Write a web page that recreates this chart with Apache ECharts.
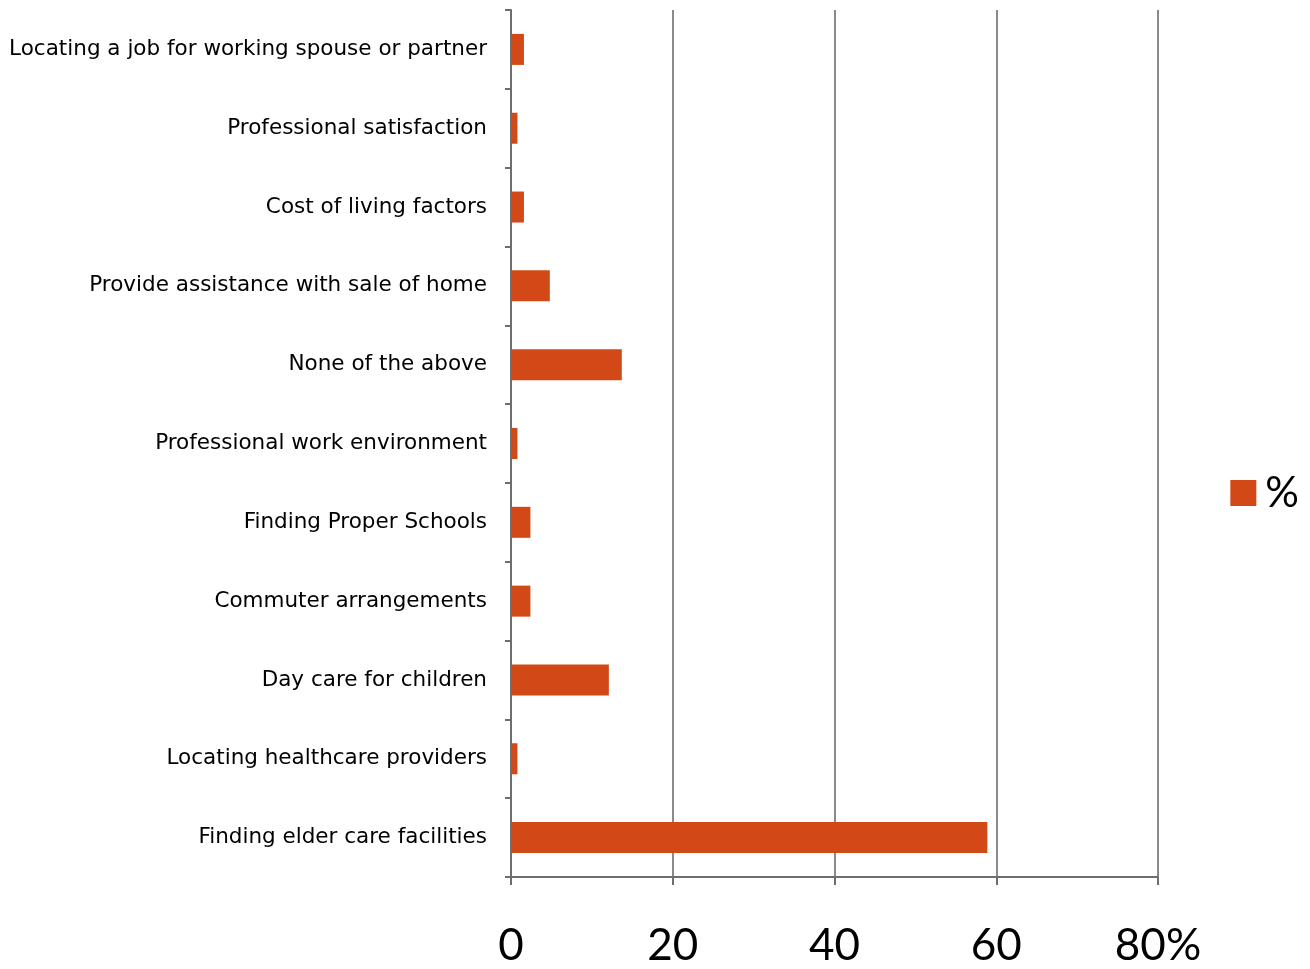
<!DOCTYPE html>
<html><head><meta charset="utf-8">
<script src="https://cdn.jsdelivr.net/npm/echarts@6/dist/echarts.min.js"></script>
<style>html,body{margin:0;padding:0;background:#fff}#c{width:1310px;height:969px}</style>
</head><body><div id="c"></div>
<script>
const categories = [
  "Locating a job for working spouse or partner",
  "Professional satisfaction",
  "Cost of living factors",
  "Provide assistance with sale of home",
  "None of the above",
  "Professional work environment",
  "Finding Proper Schools",
  "Commuter arrangements",
  "Day care for children",
  "Locating healthcare providers",
  "Finding elder care facilities"
];
const values = [1.6, 0.8, 1.6, 4.8, 13.7, 0.8, 2.4, 2.4, 12.1, 0.8, 58.9];
const xTicks = {0:"0", 20:"20", 40:"40", 60:"60", 80:"80%"};
const seriesName = "%";

const chart = echarts.init(document.getElementById('c'));
chart.setOption({
  animation: false,
  grid: {left: 511, right: 152, top: 10, bottom: 92, containLabel: false},
  legend: {
    right: 6, top: 467, orient: 'vertical',
    icon: 'rect',
    itemWidth: 26, itemHeight: 26, itemGap: 10,
    textStyle: {fontFamily: 'Lato', fontSize: 42, color: '#000', padding: [0,0,0,4]},
    data: [seriesName]
  },
  xAxis: {
    type: 'value', min: 0, max: 80, interval: 20,
    axisLine: {show: true, lineStyle: {color: '#6e6e6e', width: 2}},
    axisTick: {show: true, length: 8, lineStyle: {color: '#6e6e6e', width: 2}},
    splitLine: {show: true, lineStyle: {color: '#8a8a8a', width: 2}},
    axisLabel: {
      margin: 47, fontFamily: 'Lato', fontSize: 44, color: '#000',
      formatter: v => xTicks[v] !== undefined ? xTicks[v] : ''
    }
  },
  yAxis: {
    type: 'category', inverse: true, data: categories,
    axisLine: {show: true, lineStyle: {color: '#6e6e6e', width: 2}},
    axisTick: {show: true, length: 6, lineStyle: {color: '#6e6e6e', width: 2}},
    axisLabel: {margin: 24, fontFamily: 'DejaVu Sans', fontSize: 21.5, color: '#000'}
  },
  series: [{
    name: seriesName, type: 'bar', data: values,
    barWidth: 31,
    itemStyle: {color: '#D34817'}
  }]
});
</script></body></html>
